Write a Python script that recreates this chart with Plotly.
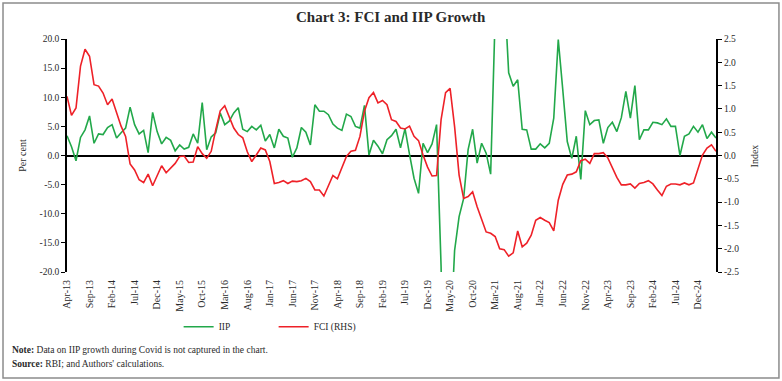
import plotly.graph_objects as go

months = ["Jan","Feb","Mar","Apr","May","Jun","Jul","Aug","Sep","Oct","Nov","Dec"]
categories = []
y, m = 2013, 3
for _ in range(145):
    categories.append(f"{months[m]}-{str(y)[2:]}")
    m += 1
    if m == 12:
        m = 0
        y += 1

iip = [3.4, 1.5, -0.9, 3.1, 4.4, 6.8, 2.1, 3.7, 3.6, 4.8,
       5.3, 3.0, 3.9, 4.7, 8.3, 5.3, 3.7, 4.3, 0.5, 7.4,
       4.1, 2.0, 3.1, 2.6, 0.8, 1.8, 1.1, 1.4, 3.7, 2.1,
       9.1, 1.0, 3.2, 3.9, 7.3, 5.3, 5.9, 7.3, 8.2, 4.5,
       4.1, 5.0, 4.4, 5.2, 2.5, 3.6, 1.3, 4.5, 3.3, 3.0,
       -0.3, 1.3, 4.8, 4.0, 1.8, 8.7, 7.6, 7.6, 7.0, 5.4,
       4.7, 4.3, 7.1, 6.7, 5.0, 4.7, 8.6, 0.1, 2.6, 1.6,
       0.3, 2.7, 3.4, 4.5, 1.3, 4.6, 0.2, -3.9, -6.5, 2.1,
       0.5, 2.0, 5.3, -19.0, -57.0, -33.0, -16.3, -10.5, -7.4, 1.0,
       4.5, -1.3, 2.1, 0.4, -3.2, 24.0, 134.0, 29.0, 14.2, 11.9,
       13.0, 4.5, 4.4, 1.1, 1.1, 2.0, 1.3, 2.1, 6.4, 19.9,
       11.3, 2.4, -0.5, 3.3, -4.1, 7.7, 5.3, 6.0, 6.1, 2.1,
       4.8, 5.7, 4.1, 6.5, 11.0, 6.4, 12.0, 2.7, 4.4, 4.4,
       5.7, 5.6, 5.3, 6.3, 5.0, 5.0, 0.0, 3.3, 3.7, 5.0,
       4.0, 5.3, 2.9, 4.0, 3.0]

fci = [1.27, 0.86, 1.02, 1.92, 2.28, 2.13, 1.52, 1.49, 1.34, 1.09,
       1.21, 0.91, 0.63, 0.41, -0.18, -0.31, -0.52, -0.58, -0.40, -0.65,
       -0.42, -0.22, -0.37, -0.27, -0.17, -0.02, -0.01, -0.15, -0.14, 0.19,
       0.04, -0.06, 0.09, 0.55, 0.96, 1.07, 0.83, 0.59, 0.45, 0.38,
       0.08, -0.13, 0.01, 0.16, 0.12, -0.13, -0.60, -0.58, -0.54, -0.60,
       -0.55, -0.56, -0.54, -0.49, -0.56, -0.74, -0.74, -0.87, -0.65, -0.43,
       -0.50, -0.24, -0.02, 0.09, 0.11, 0.41, 0.95, 1.24, 1.35, 1.13,
       1.18, 1.09, 0.77, 0.73, 0.59, 0.57, 0.63, 0.41, 0.32, 0.01,
       -0.25, -0.44, -0.43, 0.77, 1.35, 1.44, 0.62, -0.42, -0.92, -0.88,
       -0.78, -1.10, -1.37, -1.64, -1.67, -1.74, -2.00, -2.02, -2.16, -2.09,
       -1.62, -1.96, -1.88, -1.71, -1.39, -1.33, -1.39, -1.44, -1.62, -0.96,
       -0.62, -0.42, -0.40, -0.35, -0.11, -0.08, -0.17, 0.04, 0.04, 0.06,
       -0.05, -0.26, -0.47, -0.63, -0.63, -0.61, -0.70, -0.60, -0.58, -0.54,
       -0.61, -0.74, -0.86, -0.66, -0.61, -0.61, -0.63, -0.59, -0.63, -0.59,
       -0.31, 0.01, 0.16, 0.23, 0.09]

tick_labels = categories[::5]

left_ticks = [20, 15, 10, 5, 0, -5, -10, -15, -20]
right_ticks = [2.5, 2.0, 1.5, 1.0, 0.5, 0.0, -0.5, -1.0, -1.5, -2.0, -2.5]

FONT = "Liberation Serif"
GREEN = "#22A84A"
RED = "#EE2128"
TXT = "#2a2a2a"

fig = go.Figure()
fig.add_trace(go.Scatter(x=categories, y=iip, name="IIP", mode="lines",
                         line=dict(color=GREEN, width=1.6), yaxis="y"))
fig.add_trace(go.Scatter(x=categories, y=fci, name="FCI (RHS)", mode="lines",
                         line=dict(color=RED, width=1.6), yaxis="y2"))

fig.update_layout(
    width=782, height=381,
    margin=dict(l=67, r=66, t=39, b=109),
    paper_bgcolor="white", plot_bgcolor="white",
    font=dict(family=FONT, size=10, color=TXT),
    showlegend=True,
    legend=dict(orientation="h", x=0.172, y=-0.235, xanchor="left", yanchor="middle",
                font=dict(family=FONT, size=9.5, color=TXT),
                entrywidth=50, entrywidthmode="pixels", bgcolor="rgba(0,0,0,0)"),
    xaxis=dict(type="category", range=[0, 144], tickmode="array",
               tickvals=tick_labels, ticktext=tick_labels, tickangle=-90,
               showgrid=False, zeroline=False, showline=False, ticks="",
               ticklabelstandoff=5,
               tickfont=dict(family=FONT, size=10, color=TXT)),
    yaxis=dict(range=[-20, 20], tickmode="array", tickvals=left_ticks,
               ticktext=[f"{v:.1f}" for v in left_ticks],
               showgrid=False, zeroline=True, zerolinecolor="black", zerolinewidth=2,
               showline=True, linecolor="black", linewidth=1.5,
               ticks="outside", ticklen=4, tickcolor="black",
               tickfont=dict(family=FONT, size=9.5, color=TXT)),
    yaxis2=dict(range=[-2.5, 2.5], overlaying="y", side="right", tickmode="array",
                tickvals=right_ticks, ticktext=[f"{v:.1f}" for v in right_ticks],
                showgrid=False, zeroline=False,
                showline=True, linecolor="black", linewidth=2,
                ticks="outside", ticklen=4, tickcolor="black",
                tickfont=dict(family=FONT, size=9.5, color=TXT)),
    shapes=[dict(type="rect", xref="paper", yref="paper",
                 x0=-0.0986, x1=1.097, y0=-0.455, y1=1.1545,
                 line=dict(color="#8c8c8c", width=1.5))],
    annotations=[
        dict(text="<b>Chart 3: FCI and IIP Growth</b>", xref="paper", yref="paper",
             x=0.499, y=1.094, showarrow=False, xanchor="center", yanchor="middle",
             font=dict(family=FONT, size=15, color=TXT)),
        dict(text="Per cent", xref="paper", yref="paper", x=-0.069, y=0.5,
             textangle=-90, showarrow=False, xanchor="center", yanchor="middle",
             font=dict(family=FONT, size=10, color=TXT)),
        dict(text="Index", xref="paper", yref="paper", x=1.06, y=0.5,
             textangle=-90, showarrow=False, xanchor="center", yanchor="middle",
             font=dict(family=FONT, size=10, color=TXT)),
        dict(text="<b>Note:</b> Data on IIP growth during Covid is not captured in the chart.",
             xref="paper", yref="paper", x=-0.0876, y=-0.335, showarrow=False,
             xanchor="left", yanchor="middle", font=dict(family=FONT, size=9.5, color=TXT)),
        dict(text="<b>Source:</b> RBI; and Authors' calculations.",
             xref="paper", yref="paper", x=-0.0876, y=-0.395, showarrow=False,
             xanchor="left", yanchor="middle", font=dict(family=FONT, size=9.5, color=TXT)),
    ],
)

fig.write_html("out.html", config={"displayModeBar": False},
               post_script="document.body.style.margin='0';document.body.style.overflow='hidden';")
